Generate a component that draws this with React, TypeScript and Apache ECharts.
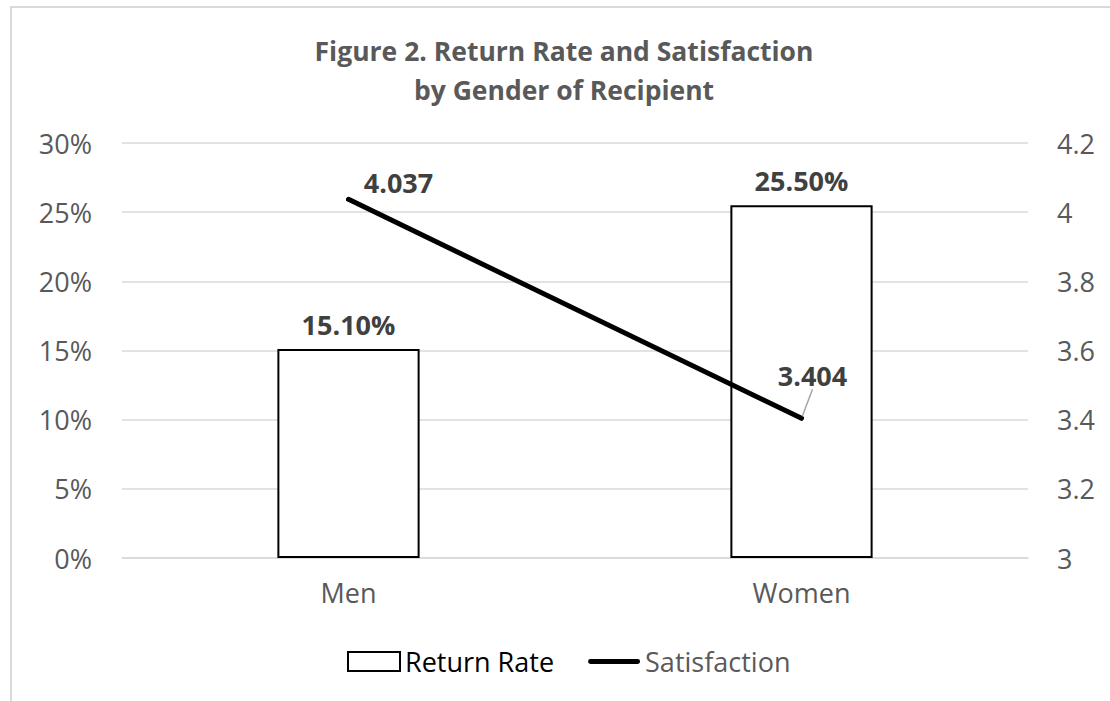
import React, { useEffect, useRef } from "react";
import * as echarts from "echarts";

const categories = ["Men", "Women"];
const returnRate = [15.1, 25.5];
const satisfaction = [4.037, 3.404];
const titleLines = ["Figure 2. Return Rate and Satisfaction", "by Gender of Recipient"];
const seriesNames = ["Return Rate", "Satisfaction"];

const FONT = "'Open Sans', 'DejaVu Sans', sans-serif";
const GREY = "#595959";
const FS = 27;

export default function App() {
  const ref = useRef<HTMLDivElement>(null);
  useEffect(() => {
    if (!ref.current) return;
    const chart = echarts.init(ref.current, null, { renderer: "svg" });
    chart.setOption({
      animation: false,
      backgroundColor: "#fff",
      textStyle: { fontFamily: FONT },
      title: {
        text: titleLines.join("\n"),
        left: 559,
        top: 26,
        padding: 5,
        textAlign: "center",
        textStyle: {
          fontFamily: FONT,
          fontSize: 26.5,
          fontWeight: "bold",
          color: GREY,
          lineHeight: 39,
        },
      },
      graphic: [
        {
          type: "rect",
          z: -10,
          silent: true,
          shape: { x: 11, y: 7, width: 1300, height: 900 },
          style: { fill: "none", stroke: "#d9d9d9", lineWidth: 2 },
        },
      ],
      legend: {
        left: 342,
        top: 643,
        itemWidth: 52,
        itemHeight: 19,
        itemGap: 34,
        textStyle: { fontFamily: FONT, fontSize: FS },
        data: [
          {
            name: seriesNames[0],
            icon: "rect",
            itemStyle: { color: "#fff", borderColor: "#000", borderWidth: 2 },
            textStyle: { color: "#000" },
          },
          {
            name: seriesNames[1],
            icon: "path://M2.5,0H51.5A2.5,2.5,0,0,1,51.5,5H2.5A2.5,2.5,0,0,1,2.5,0Z",
            itemStyle: { color: "#000", borderWidth: 0 },
            textStyle: { color: GREY },
          },
        ],
      },
      grid: { left: 122, right: 82, top: 143, bottom: 143, containLabel: false },
      xAxis: {
        type: "category",
        data: categories,
        axisTick: { show: false },
        axisLine: { show: true, lineStyle: { color: "#d9d9d9", width: 1.5 } },
        axisLabel: { fontFamily: FONT, fontSize: FS, color: GREY, margin: 21 },
      },
      yAxis: [
        {
          type: "value",
          min: 0,
          max: 30,
          interval: 5,
          axisLine: { show: false },
          axisTick: { show: false },
          splitLine: { lineStyle: { color: "#d9d9d9", width: 1.5 } },
          axisLabel: {
            fontFamily: FONT,
            fontSize: FS,
            color: GREY,
            margin: 30,
            formatter: (v: number) => `${v}%`,
          },
        },
        {
          type: "value",
          min: 3,
          max: 4.2,
          interval: 0.2,
          axisLine: { show: false },
          axisTick: { show: false },
          splitLine: { show: false },
          axisLabel: {
            fontFamily: FONT,
            fontSize: FS,
            color: GREY,
            margin: 29,
            formatter: (v: number) => String(parseFloat(v.toFixed(1))),
          },
        },
      ],
      series: [
        {
          name: seriesNames[0],
          type: "bar",
          yAxisIndex: 0,
          data: returnRate,
          barWidth: "31.4%",
          itemStyle: { color: "#fff", borderColor: "#000", borderWidth: 2 },
          label: {
            show: true,
            position: "top",
            distance: 11,
            fontFamily: FONT,
            fontSize: FS,
            fontWeight: "bold",
            color: "#404040",
            formatter: (p: any) => `${Number(p.value).toFixed(2)}%`,
          },
          z: 2,
        },
        {
          name: seriesNames[1],
          type: "line",
          yAxisIndex: 1,
          data: satisfaction.map((v, i) => ({
            value: v,
            labelLine: { show: i === 1, lineStyle: { color: "#a6a6a6", width: 1.5 } },
          })),
          symbol: "circle",
          symbolSize: 4,
          itemStyle: { color: "#000" },
          lineStyle: { color: "#000", width: 5, cap: "round" },
          label: {
            show: true,
            position: "top",
            distance: 5,
            fontFamily: FONT,
            fontSize: FS,
            fontWeight: "bold",
            color: "#404040",
            formatter: (p: any) => Number(p.value).toFixed(3),
          },
          labelLayout: (p: any) =>
            p.dataIndex === 0 ? { dx: 50, dy: 4 } : { dx: 11, dy: -22 },
          z: 3,
        },
      ],
    });
    return () => chart.dispose();
  }, []);
  return (
    <div
      ref={ref}
      style={{ position: "absolute", left: 0, top: 0, width: 1110, height: 701 }}
    />
  );
}
